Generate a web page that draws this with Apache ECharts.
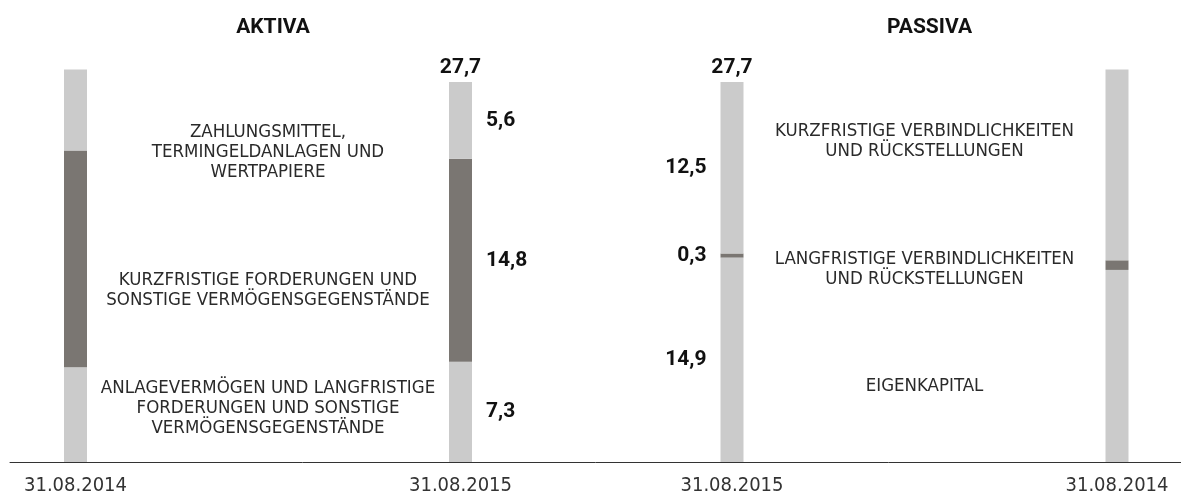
<!DOCTYPE html>
<html lang="de">
<head>
<meta charset="UTF-8">
<title>Bilanz Aktiva / Passiva</title>
<script src="https://cdn.jsdelivr.net/npm/echarts@6/dist/echarts.min.js"></script>
<style>
  html, body { margin: 0; padding: 0; background: #fff; }
  #main { width: 1181px; height: 497px; }
</style>
</head>
<body>
<div id="main"></div>
<script>
// Stichtage, von links nach rechts
var dates = ['31.08.2014', '31.08.2015', '31.08.2015', '31.08.2014'];

// Aktiva (Mio. EUR), [2014, 2015]
var anlagevermoegen = [6.9, 7.3];
var forderungen = [15.8, 14.8];
var zahlungsmittel = [5.9, 5.6];

// Passiva (Mio. EUR), [2015, 2014]
var eigenkapital = [14.9, 14.0];
var langfristig = [0.3, 0.7];
var kurzfristig = [12.5, 13.9];

// Beschriftungen der Positionen
var aktivaTexte = [
    'ZAHLUNGSMITTEL,\nTERMINGELDANLAGEN UND\nWERTPAPIERE',
    'KURZFRISTIGE FORDERUNGEN UND\nSONSTIGE VERMÖGENSGEGENSTÄNDE',
    'ANLAGEVERMÖGEN UND LANGFRISTIGE\nFORDERUNGEN UND SONSTIGE\nVERMÖGENSGEGENSTÄNDE'
];
var passivaTexte = [
    'KURZFRISTIGE VERBINDLICHKEITEN\nUND RÜCKSTELLUNGEN',
    'LANGFRISTIGE VERBINDLICHKEITEN\nUND RÜCKSTELLUNGEN',
    'EIGENKAPITAL'
];

// layout
var barX = [75.5, 460.5, 732, 1117];
var barW = 23;
var light = '#cbcbcb';
var dark = '#7a7672';
var thinFont = '"Liberation Sans Narrow", "DejaVu Sans Condensed", sans-serif';
var boldFont = 'Roboto, "DejaVu Sans", sans-serif';
var labelSide = [null, 'right', 'left', null];

function fmt(v) {
    return v.toFixed(1).replace('.', ',');
}

// Segmente von unten nach oben je Säule
var seg0 = [anlagevermoegen[0], anlagevermoegen[1], eigenkapital[0], eigenkapital[1]];
var seg1 = [forderungen[0], forderungen[1], langfristig[0], langfristig[1]];
var seg2 = [zahlungsmittel[0], zahlungsmittel[1], kurzfristig[0], kurzfristig[1]];

function addUp(a, b) {
    return a.map(function (v, i) { return v + b[i]; });
}
var base0 = [0, 0, 0, 0];
var base1 = addUp(base0, seg0);
var base2 = addUp(base1, seg1);
var tops = addUp(base2, seg2);

// custom series, damit auf der Werteachse gestapelt werden kann
function segSeries(name, values, bases, color) {
    return {
        name: name,
        type: 'custom',
        silent: true,
        data: values.map(function (v, i) { return [barX[i], bases[i], bases[i] + v, v, i]; }),
        renderItem: function (params, api) {
            var p0 = api.coord([api.value(0), api.value(1)]);
            var p1 = api.coord([api.value(0), api.value(2)]);
            var side = labelSide[api.value(4)];
            var el = {
                type: 'rect',
                shape: { x: p0[0] - barW / 2, y: p1[1], width: barW, height: p0[1] - p1[1] },
                style: { fill: color }
            };
            if (side) {
                el.textContent = {
                    style: {
                        text: fmt(api.value(3)),
                        font: 'bold 21px ' + boldFont,
                        fill: '#111'
                    }
                };
                el.textConfig = { position: side, distance: 14 };
            }
            return el;
        }
    };
}

var graphics = [];
function textBlock(x, y, text) {
    graphics.push({
        type: 'text',
        x: x,
        y: y,
        style: {
            text: text,
            align: 'center',
            verticalAlign: 'middle',
            font: '18.5px ' + thinFont,
            lineHeight: 20,
            fill: '#2a2a2a'
        }
    });
}
var midA = (barX[0] + barX[1]) / 2;
var midP = (barX[2] + barX[3]) / 2;
textBlock(midA, 152, aktivaTexte[0]);
textBlock(midA, 290, aktivaTexte[1]);
textBlock(midA, 408, aktivaTexte[2]);
textBlock(midP, 141, passivaTexte[0]);
textBlock(midP, 269, passivaTexte[1]);
textBlock(midP, 386, passivaTexte[2]);

var titleStyle = { fontFamily: boldFont, fontSize: 21, fontWeight: 'bold', color: '#111' };

var chart = echarts.init(document.getElementById('main'));
chart.setOption({
    animation: false,
    title: [
        { text: 'AKTIVA', left: midA, top: 12, textAlign: 'center', textStyle: titleStyle },
        { text: 'PASSIVA', left: midP, top: 12, textAlign: 'center', textStyle: titleStyle }
    ],
    grid: { left: 10, right: 0, top: 50.4, bottom: 35 },
    xAxis: {
        type: 'value',
        min: 10,
        max: 1181,
        splitLine: { show: false },
        axisTick: { show: false },
        axisLine: { show: true, onZero: false, lineStyle: { color: '#333', width: 1 } },
        axisLabel: {
            customValues: barX,
            margin: 14,
            fontFamily: thinFont,
            fontSize: 20,
            color: '#333',
            formatter: function (v) { return dates[barX.indexOf(v)] || ''; }
        }
    },
    yAxis: { type: 'value', min: 0, max: 30, show: false },
    graphic: graphics,
    series: [
        segSeries('unten', seg0, base0, light),
        segSeries('mitte', seg1, base1, dark),
        segSeries('oben', seg2, base2, light),
        {
            name: 'Summe',
            type: 'scatter',
            symbolSize: 0,
            silent: true,
            itemStyle: { opacity: 1 },
            label: {
                show: true,
                position: 'top',
                distance: 4,
                fontFamily: boldFont,
                fontWeight: 'bold',
                fontSize: 21,
                color: '#111'
            },
            labelLayout: { hideOverlap: false },
            data: [[barX[1], tops[1]], [barX[2], tops[2]]].map(function (d) {
                return { value: d, label: { formatter: fmt(d[1]) } };
            })
        }
    ]
});
</script>
</body>
</html>
